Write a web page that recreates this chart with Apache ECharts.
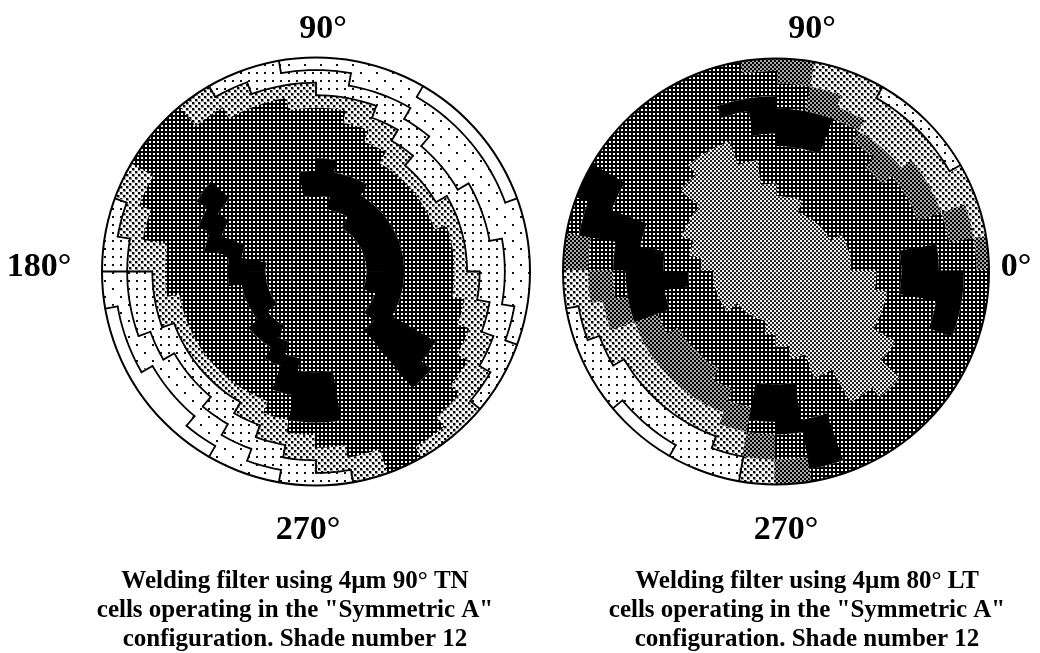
<!DOCTYPE html>
<html><head><meta charset="utf-8">
<style>html,body{margin:0;padding:0;background:#fff}#c{width:1040px;height:653px}</style>
<script src="https://cdn.jsdelivr.net/npm/echarts@6/dist/echarts.min.js"></script>
</head><body><div id="c"></div>
<script>
// Depth (in rings counted from the rim) reached by each shade, per 10-degree sector, left plot
const leftClearDepth  = [0,0,1,1,1,1,0,0,0,0,0,0,0,0,0,0,0,0,0,1,1,2,2,1,0,0,0,0,0,0,0,0,0,0,0,0];
const leftSparseDepth = [2,3,3,4,4,3,2,2,1,1,0,0,0,0,0,0,0,0,2,2,3,4,4,3,2,1,0,0,0,0,0,0,0,0,1,2];
const leftDottedDepth = [5,5,5,6,6,5,4,3,3,2,2,1,0,0,0,0,1,2,4,4,5,5,5,5,4,3,2,1,0,0,0,0,1,2,3,4];
const leftLightDepth  = [6,6,7,7,7,7,6,5,4,4,3,3,2,0,0,2,3,5,5,6,6,6,6,6,6,5,4,3,2,0,1,2,3,4,5,6];
// [sector, first ring, end ring]
const leftBlack = [[14,6,8],[15,7,9],[16,8,11],[17,10,13],[18,10,13],[19,11,13],[20,11,13],[21,11,13],[22,10,12],[23,10,12],[24,9,11],[25,7,10],[26,5,9],[27,5,9],
 [8,8,11],[9,9,11],[7,9,12],[6,9,12],[5,10,13],[4,10,13],[3,10,13],[2,10,13],[1,10,13],[0,10,13],[35,10,13],[34,10,13],[33,10,12],[32,6,12],[31,5,11]];
// right plot
const rightClear = [[22,0,1],[23,0,1]];
const rightDotted = [[3,0,1],[4,0,1],[5,0,1],[19,0,1],[20,0,2],[21,0,3],[22,1,3],[23,1,3],[24,0,3],[25,0,2]];
const rightLight = [[1,0,1],[2,0,3],[3,1,3],[4,1,4],[5,1,4],[6,0,3],[7,0,2],[18,0,2],[19,1,3],[20,2,5],[21,3,5],[22,3,5],[23,3,5],[24,3,5],[25,2,4],[26,0,2]];
const rightGrey = [[0,0,1],[1,1,3],[2,3,5],[3,3,5],[4,4,6],[5,4,5],[6,3,4],[7,2,4],[8,0,2],[9,0,1],[17,0,2],[18,2,4],[19,3,5],[20,5,7],[21,5,8],[22,5,8],[23,5,8],[24,5,7],[25,4,6],[26,2,4],[27,0,2]];
const rightBlack = [[7,4,7],[8,4,7],[9,3,6],[10,3,4],[0,4,7],[35,2,7],[34,2,4],[15,0,3],[16,1,6],[17,4,8],[18,5,10],[19,5,8],[26,5,8],[27,4,8],[28,1,5]];
const rightCoreDepth = [11,11,11,12,12,12,12,11,11,10,8,6,6,7,9,9,10,11,12,12,12,12,13,13,13,13,12,11,10,8,5,4,6,8,8,9];
const captionLeft = ['Welding filter using 4µm 90° TN','cells operating in the "Symmetric A"','configuration. Shade number 12'];
const captionRight = ['Welding filter using 4µm 80° LT','cells operating in the "Symmetric A"','configuration. Shade number 12'];
const tickTop='90°', tickBottom='270°', tickLeft='180°', tickRight='0°';

const RINGS=17, SECTORS=36, STEP=10, HUB=2;
const CLEAR=0,SPARSE=1,DOTTED=2,LIGHT=3,DARK=4,BLACK=5,GREY=6,CORE=7;

function tile(w,h,bg,fg,pts,s,halo){const c=document.createElement('canvas');c.width=w;c.height=h;const x=c.getContext('2d');
 x.fillStyle=bg;x.fillRect(0,0,w,h);
 if(halo){x.fillStyle=halo;pts.forEach(p=>x.fillRect(p[0],p[1],s+1,s+1));}
 x.fillStyle=fg;pts.forEach(p=>x.fillRect(p[0],p[1],s,s));return {image:c,repeat:'repeat'};}
const fills={};
fills[CLEAR]='#ffffff';
fills[SPARSE]=tile(16,16,'#fff','#111',[[0,0],[8,8]],2);
fills[DOTTED]=tile(8,8,'#fff','#111',[[0,0]],2);
fills[LIGHT]=tile(6,6,'#fff','#000',[[0,0],[3,3]],2,'#999');
fills[DARK]=tile(4,4,'#000','#fff',[[1,1]],2);
fills[BLACK]='#000000';
fills[GREY]=tile(4,4,'#000','#a8a8a8',[[0,0],[2,2]],2);
fills[CORE]=tile(4,4,'#222','#f0f0f0',[[0,0],[2,2]],2);

function gridFrom(cellsByShade){const g=[];for(let k=0;k<SECTORS;k++){g.push(new Array(RINGS).fill(DARK));}
 cellsByShade.forEach(([shade,runs])=>runs.forEach(([k,a,b])=>{for(let d=a;d<b;d++)g[k][d]=shade;}));return g;}
function bandRuns(outer,inner){return outer.map((v,k)=>[k,v,inner[k]]).filter(r=>r[2]>r[1]);}
const zeros=new Array(SECTORS).fill(0);
const leftGrid=gridFrom([[CLEAR,bandRuns(zeros,leftClearDepth)],[SPARSE,bandRuns(leftClearDepth,leftSparseDepth)],[DOTTED,bandRuns(leftSparseDepth,leftDottedDepth)],[LIGHT,bandRuns(leftDottedDepth,leftLightDepth)],[BLACK,leftBlack]]);
const rightGrid=gridFrom([[CORE,rightCoreDepth.map((v,k)=>[k,v,RINGS])],[GREY,rightGrey],[LIGHT,rightLight],[DOTTED,rightDotted],[CLEAR,rightClear],[BLACK,rightBlack]]);

function cellsOf(g){const out=[];g.forEach((col,k)=>{let d=0;while(d<RINGS){let e=d;
   while(e<RINGS&&col[e]===col[d]&&!(e>d&&e===RINGS-HUB))e++;
  out.push([RINGS-e,RINGS-d,k*STEP,(k+1)*STEP,col[d]]);d=e;}});return out;}
function edgesOf(g){const out=[];for(let k=0;k<SECTORS;k++){const n=g[(k+1)%SECTORS];for(let d=0;d<RINGS;d++){const s=g[k][d];
   if(s!==n[d]&&Math.min(s,n[d])<=DOTTED)out.push([RINGS-d-1,RINGS-d,(k+1)*STEP,(k+1)*STEP]);
   if(d+1<RINGS){const t=g[k][d+1];if(s!==t&&Math.min(s,t)<=DOTTED)out.push([RINGS-d-1,RINGS-d-1,k*STEP,(k+1)*STEP]);}}}
 return out;}
function cellItem(params,api){const r0=api.value(0),r1=api.value(1),lap=r0===0?4:0.4,a0=api.value(2)-lap,a1=api.value(3)+lap,pts=[];
 for(let a=a0;a<a1;a+=2)pts.push(api.coord([r1,a]));pts.push(api.coord([r1,a1]));
 if(r0>0){pts.push(api.coord([r0,a1]));for(let a=a1;a>a0;a-=2)pts.push(api.coord([r0,a]));pts.push(api.coord([r0,a0]));}
 else pts.push(api.coord([0,a0]));
 return {type:'polygon',shape:{points:pts},style:{fill:fills[api.value(4)],stroke:null}};}
function edgeItem(params,api){const r0=api.value(0),r1=api.value(1),a0=api.value(2),a1=api.value(3),pts=[];
 if(a0===a1){pts.push(api.coord([r0,a0]),api.coord([r1,a0]));}
 else{for(let a=a0;a<=a1;a+=2)pts.push(api.coord([r0,a]));}
 return {type:'polyline',shape:{points:pts},style:{fill:null,stroke:'#000',lineWidth:1.8,lineCap:'round'}};}
function plot(i,grid){return [
 {type:'custom',coordinateSystem:'polar',polarIndex:i,renderItem:cellItem,silent:true,animation:false,z:2,data:cellsOf(grid)},
 {type:'custom',coordinateSystem:'polar',polarIndex:i,renderItem:edgeItem,silent:true,animation:false,z:3,data:edgesOf(grid)}];}
function angle(i){return {polarIndex:i,min:0,max:360,startAngle:0,clockwise:false,z:5,axisLine:{show:true,lineStyle:{color:'#000',width:2}},axisTick:{show:false},axisLabel:{show:false},splitLine:{show:false}};}
function radius(i){return {polarIndex:i,min:0,max:RINGS,axisLine:{show:false},axisTick:{show:false},axisLabel:{show:false},splitLine:{show:false}};}
const serif='"Liberation Serif","Times New Roman",serif';
function txt(t,x,y,size){return {type:'text',x:x,y:y,style:{text:t,x:0,y:0,align:'center',verticalAlign:'middle',fill:'#000',font:'bold '+size+'px '+serif}};}
const graphics=[txt(tickTop,323,29,34),txt(tickBottom,308,530,34),txt(tickLeft,39,267,34),txt(tickTop,812,29,34),txt(tickBottom,786,530,34),txt(tickRight,1016,267,34)];
captionLeft.forEach((t,i)=>graphics.push(txt(t,295,582+i*29,25)));
captionRight.forEach((t,i)=>graphics.push(txt(t,807,582+i*29,25)));
const chart=echarts.init(document.getElementById('c'),null,{renderer:'canvas'});
chart.setOption({animation:false,backgroundColor:'#fff',
 polar:[{center:[316,271.5],radius:214},{center:[776,271.5],radius:213}],
 angleAxis:[angle(0),angle(1)],radiusAxis:[radius(0),radius(1)],
 series:[...plot(0,leftGrid),...plot(1,rightGrid)],graphic:graphics});
</script></body></html>
